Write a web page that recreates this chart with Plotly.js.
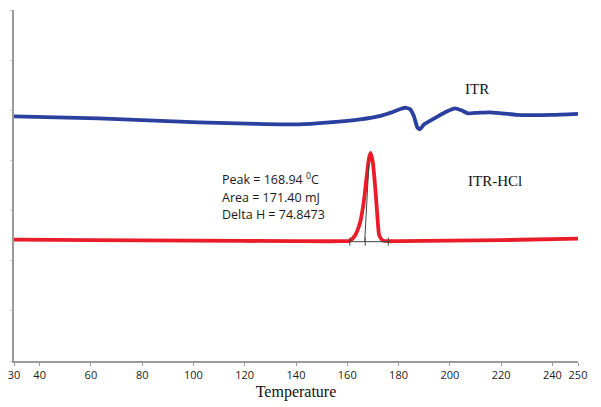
<!DOCTYPE html>
<html><head><meta charset="utf-8">
<script src="https://cdn.plot.ly/plotly-3.0.1.min.js"></script>
<style>html,body{margin:0;padding:0;background:#fff}#c{width:601px;height:407px}</style>
</head><body><div id="c"></div>
<script>
// ITR (blue) curve
const itrT = [30, 63, 102, 125, 141, 153, 165, 173, 178, 181, 183, 184.5, 186, 187.3, 188.3, 190, 195, 199, 202, 204.5, 207, 211, 215.6, 220, 226, 240, 250];
const itrV = [4.88, 4.84, 4.76, 4.73, 4.72, 4.76, 4.82, 4.89, 4.97, 5.03, 5.05, 5.02, 4.88, 4.66, 4.62, 4.72, 4.87, 4.98, 5.04, 5.00, 4.94, 4.95, 4.96, 4.94, 4.91, 4.91, 4.93];
// ITR-HCl (red) curve
const hclT = [30, 60, 100, 140, 158, 161, 163, 165, 166.5, 167.5, 168.5, 169.1, 170, 171, 171.8, 172.5, 174, 180, 200, 220, 250];
const hclV = [2.42, 2.41, 2.40, 2.39, 2.39, 2.40, 2.50, 2.76, 3.20, 3.65, 4.05, 4.15, 3.95, 3.40, 2.85, 2.50, 2.40, 2.39, 2.40, 2.41, 2.44];
// peak integration marks
const baseT = [161, 176];
const baseV = [2.38, 2.38];
const tickTs = [161, 167, 176];
const peakLineT = [166.8, 168.4];
const peakLineV = [2.38, 3.9];
// axis ticks
const xTicks = [30, 40, 60, 80, 100, 120, 140, 160, 180, 200, 220, 240, 250];
const xTickText = xTicks.map(String);
const annText = ["Peak = 168.94 <sup>0</sup>C", "Area = 171.40 mJ", "Delta H = 74.8473"];
const annY = [3.62, 3.26, 2.92];

const traces = [
  {x: itrT, y: itrV, mode: 'lines', line: {color: '#2b3f9f', width: 3.8, shape: 'spline', smoothing: 0.4}, hoverinfo: 'none'},
  {x: hclT, y: hclV, mode: 'lines', line: {color: '#ea1c2a', width: 3.8, shape: 'spline', smoothing: 0.6}, hoverinfo: 'none'},
  {x: baseT, y: baseV, mode: 'lines', line: {color: '#444', width: 1}, hoverinfo: 'none'},
  {x: peakLineT, y: peakLineV, mode: 'lines', line: {color: '#444', width: 1}, hoverinfo: 'none'}
];
tickTs.forEach(t => traces.push({x: [t, t], y: [2.3, 2.46], mode: 'lines', line: {color: '#444', width: 1}, hoverinfo: 'none'}));

const annotations = annText.map((t, i) => ({
  x: 110.3, y: annY[i], xref: 'x', yref: 'y', text: t, showarrow: false, xanchor: 'left', yanchor: 'middle',
  font: {family: 'Open Sans, Liberation Sans, sans-serif', size: 12.5, color: '#1a1a1a'}
}));
annotations.push({x: 210.6, y: 5.42, xref: 'x', yref: 'y', text: 'ITR', showarrow: false,
  font: {family: 'Liberation Serif, serif', size: 15, color: '#111'}});
annotations.push({x: 217.6, y: 3.58, xref: 'x', yref: 'y', text: 'ITR-HCl', showarrow: false,
  font: {family: 'Liberation Serif, serif', size: 15, color: '#111'}});

const layout = {
  width: 601, height: 407,
  margin: {l: 14, r: 23, t: 10, b: 46},
  paper_bgcolor: '#fff', plot_bgcolor: '#fff',
  showlegend: false,
  xaxis: {
    range: [30, 250], showgrid: false, zeroline: false,
    showline: true, linecolor: '#9a9a9a', linewidth: 2,
    tickmode: 'array', tickvals: xTicks, ticktext: xTickText,
    ticks: 'outside', ticklen: 3, tickcolor: '#9a9a9a',
    tickfont: {family: 'Open Sans, Liberation Sans, sans-serif', size: 11, color: '#222'},
    title: {text: 'Temperature', font: {family: 'Liberation Serif, serif', size: 16, color: '#111'}, standoff: 5}
  },
  yaxis: {
    range: [0, 7], showgrid: false, zeroline: false,
    showline: true, linecolor: '#9a9a9a', linewidth: 2,
    dtick: 1, ticks: 'outside', ticklen: 2, tickcolor: '#d0d0d0',
    showticklabels: false
  },
  annotations: annotations
};
Plotly.newPlot('c', traces, layout, {staticPlot: true, displayModeBar: false});
</script></body></html>
